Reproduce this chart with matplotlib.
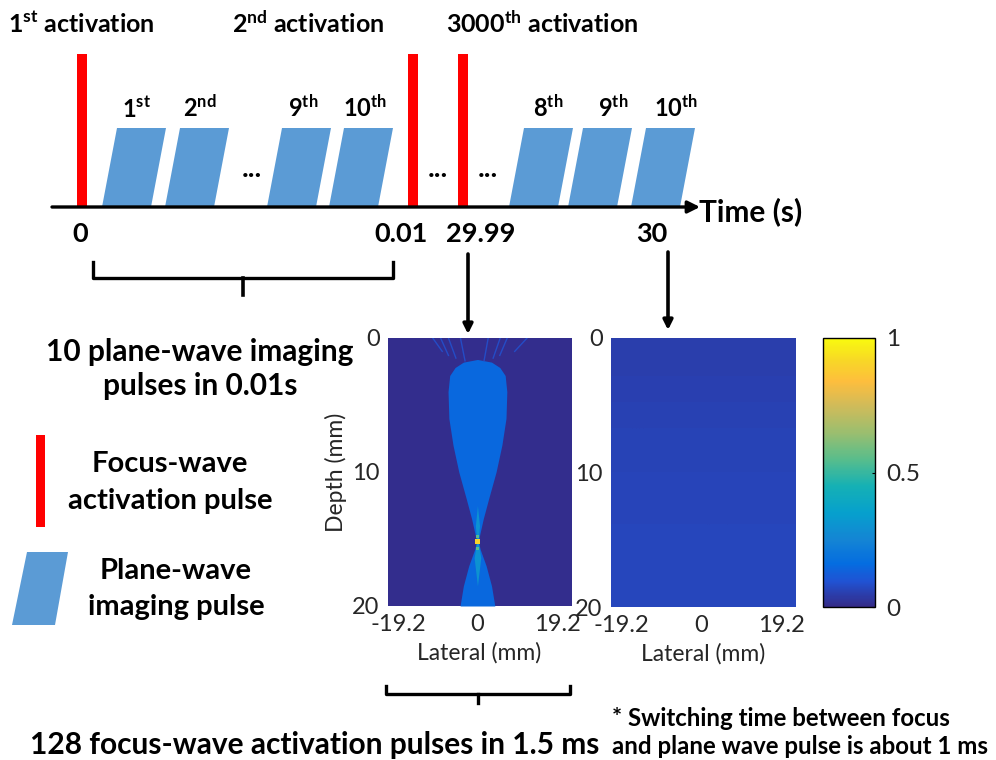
import matplotlib
matplotlib.use('Agg')
import matplotlib.pyplot as plt
from matplotlib import font_manager
from matplotlib.colors import LinearSegmentedColormap, Normalize
from matplotlib.cm import ScalarMappable
from matplotlib.patches import Polygon, Rectangle
import numpy as np

installed = {f.name for f in font_manager.fontManager.ttflist}
NARROW = 'Liberation Sans Narrow' if 'Liberation Sans Narrow' in installed else 'Lato'

plt.rcParams['font.family'] = ['Lato', 'DejaVu Sans']
plt.rcParams['mathtext.fontset'] = 'custom'
plt.rcParams['mathtext.rm'] = 'Lato:bold'
plt.rcParams['mathtext.it'] = 'Lato:bold'
plt.rcParams['mathtext.bf'] = 'Lato:bold'

# ---- data ----
activation_labels = [r'1$^{\mathrm{st}}$ activation', r'2$^{\mathrm{nd}}$ activation',
                     r'3000$^{\mathrm{th}}$ activation']
pulse_labels = [r'1$^{\mathrm{st}}$', r'2$^{\mathrm{nd}}$', r'9$^{\mathrm{th}}$', r'10$^{\mathrm{th}}$',
                r'8$^{\mathrm{th}}$', r'9$^{\mathrm{th}}$', r'10$^{\mathrm{th}}$']
time_ticks = ['0', '0.01', '29.99', '30']

lateral_ticks = [-19.2, 0, 19.2]
depth_ticks = [0, 10, 20]
cbar_ticks = [0, 0.5, 1]

# beam outline (depth mm, half width mm) and levels
beam_depth = [1.6, 1.8, 2.2, 2.8, 4, 6, 8, 10, 12, 13.5, 14.6, 15.2, 15.8, 17, 18.5, 20]
beam_halfwidth = [0, 3.4, 5.4, 6.7, 7.1, 6.9, 5.9, 4.5, 2.7, 1.4, 0.6, 0.2, 0.7, 2.1, 3.4, 4.2]
beam_level = 0.15
core_depth = [12.5, 14.0, 15.2, 16.4, 18.5]
core_halfwidth = [0, 0.5, 0.2, 0.8, 0]
core_level = 0.3
focus_depth = [14.8, 15.2, 15.7]
focus_level = [0.55, 0.9, 0.55]
lobe_top_x = [-10.8, -8.9, -7.0, -4.1, 2.6, 5.5, 7.2, 12.0]
lobe_end_x = [-8.5, -7.0, -5.2, -3.0, 1.6, 3.8, 5.4, 9.0]
lobe_end_depth = [1.0, 1.3, 1.5, 1.7, 1.7, 1.5, 1.3, 1.0]
lobe_level = 0.08
panel1_bg = [[0.01]]
panel2_bg = [[0.05], [0.06], [0.065], [0.07]]

parula_pos = [0.0, 0.095, 0.16, 0.25, 0.35, 0.45, 0.55, 0.65, 0.75, 0.84, 0.92, 1.0]
parula_rgb = [(0.208, 0.166, 0.529), (0.125, 0.324, 0.830), (0.017, 0.427, 0.879),
              (0.079, 0.520, 0.831), (0.024, 0.629, 0.804), (0.084, 0.693, 0.706),
              (0.348, 0.742, 0.547), (0.610, 0.747, 0.434), (0.819, 0.733, 0.350),
              (0.994, 0.745, 0.240), (0.970, 0.848, 0.147), (0.976, 0.983, 0.054)]
parula = LinearSegmentedColormap.from_list('parula', list(zip(parula_pos, parula_rgb)))
norm = Normalize(0, 1)

RED = '#ff0000'
BLUE = '#5b9bd5'
TICK = '#262626'
XLIM = (-21.6, 22.6)

fig = plt.figure(figsize=(9.96, 7.6), dpi=100)
ax = fig.add_axes([0, 0, 1, 1])
ax.set_xlim(0, 996)
ax.set_ylim(760, 0)
ax.axis('off')

# ---- timeline ----
bar_x = [82, 413, 463]
for x in bar_x:
    ax.add_patch(Rectangle((x - 5, 54), 10, 153, color=RED, lw=0, zorder=3))

para_x = [102, 165, 267, 329, 509, 568, 631]
label_x = [137, 200, 303, 365, 548, 613, 676]
for x, lx, lab in zip(para_x, label_x, pulse_labels):
    ax.add_patch(Polygon([(x, 207), (x + 49, 207), (x + 64, 128), (x + 15, 128)],
                         closed=True, color=BLUE, lw=0, zorder=2))
    ax.text(lx, 117, lab, ha='center', va='baseline', fontsize=17, fontweight='bold')

for x in [252, 438, 488]:
    ax.text(x, 177, '...', ha='center', va='baseline', fontsize=20, fontweight='bold')

ax.annotate('', xy=(700, 207), xytext=(52, 207),
            arrowprops=dict(arrowstyle='-|>', lw=2.4, color='k', mutation_scale=18,
                            shrinkA=0, shrinkB=0), zorder=4)
ax.text(699, 212, 'Time (s)', ha='left', va='center', fontsize=21.5, fontweight='bold')

for x, lab in zip([80, 401, 481, 652], time_ticks):
    ax.text(x, 234, lab, ha='center', va='center', fontsize=19.5, fontweight='bold')

for x, lab in zip([8, 232, 446], activation_labels):
    ax.text(x, 24, lab, ha='left', va='center', fontsize=18, fontweight='bold')

# braces
ax.plot([93, 93, 393, 393], [262, 278, 278, 262], color='k', lw=2.4, solid_joinstyle='round')
ax.plot([243, 243], [278, 295], color='k', lw=2.6)
ax.plot([386, 386, 570, 570], [686, 694, 694, 686], color='k', lw=2.4, solid_joinstyle='round')
ax.plot([478, 478], [694, 703], color='k', lw=2.4)

for x, y0, y1 in [(468, 254, 334), (668, 252, 330)]:
    ax.annotate('', xy=(x, y1), xytext=(x, y0),
                arrowprops=dict(arrowstyle='-|>', lw=2.6, color='k', mutation_scale=14,
                                shrinkA=0, shrinkB=0))

ax.text(200, 352, '10 plane-wave imaging', ha='center', va='center', fontsize=21.5, fontweight='bold')
ax.text(200, 386, 'pulses in 0.01s', ha='center', va='center', fontsize=21.5, fontweight='bold')

# legend
ax.add_patch(Rectangle((36, 435), 9, 92, color=RED, lw=0))
ax.text(170, 464, 'Focus-wave', ha='center', va='center', fontsize=21, fontweight='bold')
ax.text(170, 501, 'activation pulse', ha='center', va='center', fontsize=21, fontweight='bold')
ax.add_patch(Polygon([(12, 625), (55, 625), (68, 552), (27, 552)], closed=True, color=BLUE, lw=0))
ax.text(176, 571, 'Plane-wave', ha='center', va='center', fontsize=21, fontweight='bold')
ax.text(176, 607, 'imaging pulse', ha='center', va='center', fontsize=21, fontweight='bold')

ax.text(30, 745, '128 focus-wave activation pulses in 1.5 ms', ha='left', va='center',
        fontsize=21.5, fontweight='bold', family=NARROW)
ax.text(612, 718, '* Switching time between focus', ha='left', va='center',
        fontsize=17.3, fontweight='bold', family=NARROW)
ax.text(612, 746, 'and plane wave pulse is about 1 ms', ha='left', va='center',
        fontsize=17.3, fontweight='bold', family=NARROW)


# ---- image panels ----
def px_axes(x0, y0, x1, y1):
    return fig.add_axes([x0 / 996, 1 - y1 / 760, (x1 - x0) / 996, (y1 - y0) / 760])


def style_panel(a):
    a.set_xlim(*XLIM)
    a.set_ylim(20, 0)
    a.set_xticks(lateral_ticks)
    a.set_xticklabels(['-19.2', '0', '19.2'])
    a.set_yticks(depth_ticks)
    a.set_yticklabels([str(t) for t in depth_ticks])
    a.tick_params(length=0, labelsize=17, pad=6, labelcolor=TICK)
    for s in a.spines.values():
        s.set_visible(False)
    a.set_xlabel('Lateral (mm)', fontsize=16.5, labelpad=5, color=TICK)


ext = [XLIM[0], XLIM[1], 20, 0]
a1 = px_axes(388, 338, 571, 606)
a1.imshow(panel1_bg, cmap=parula, norm=norm, extent=ext, aspect='auto')
d = np.array(beam_depth)
hw = np.array(beam_halfwidth)
a1.fill_betweenx(d, -hw, hw, color=parula(norm(beam_level)), lw=0)
cd = np.array(core_depth)
chw = np.array(core_halfwidth)
a1.fill_betweenx(cd, -chw, chw, color=parula(norm(core_level)), lw=0)
for x0, x1, y1 in zip(lobe_top_x, lobe_end_x, lobe_end_depth):
    a1.plot([x0, x1], [0, y1], color=parula(norm(lobe_level)), lw=1.0)
a1.scatter([0] * len(focus_depth), focus_depth, c=focus_level, cmap=parula, norm=norm,
           s=[6, 10, 6], marker='s', lw=0, zorder=5)
style_panel(a1)
a1.set_ylabel('Depth (mm)', fontsize=16.5, labelpad=4, color=TICK)

a2 = px_axes(611, 338, 796, 607)
a2.imshow(panel2_bg, cmap=parula, norm=norm, extent=ext, aspect='auto', interpolation='bilinear')
style_panel(a2)

cax = px_axes(823, 338, 875, 607)
cb = fig.colorbar(ScalarMappable(norm=norm, cmap=parula), cax=cax)
cb.set_ticks(cbar_ticks)
cb.set_ticklabels(['0', '0.5', '1'])
cb.ax.tick_params(labelsize=17.5, length=2, direction='in', pad=8, labelcolor=TICK)
cb.outline.set_linewidth(1)

fig.savefig('out.png', dpi=100)
